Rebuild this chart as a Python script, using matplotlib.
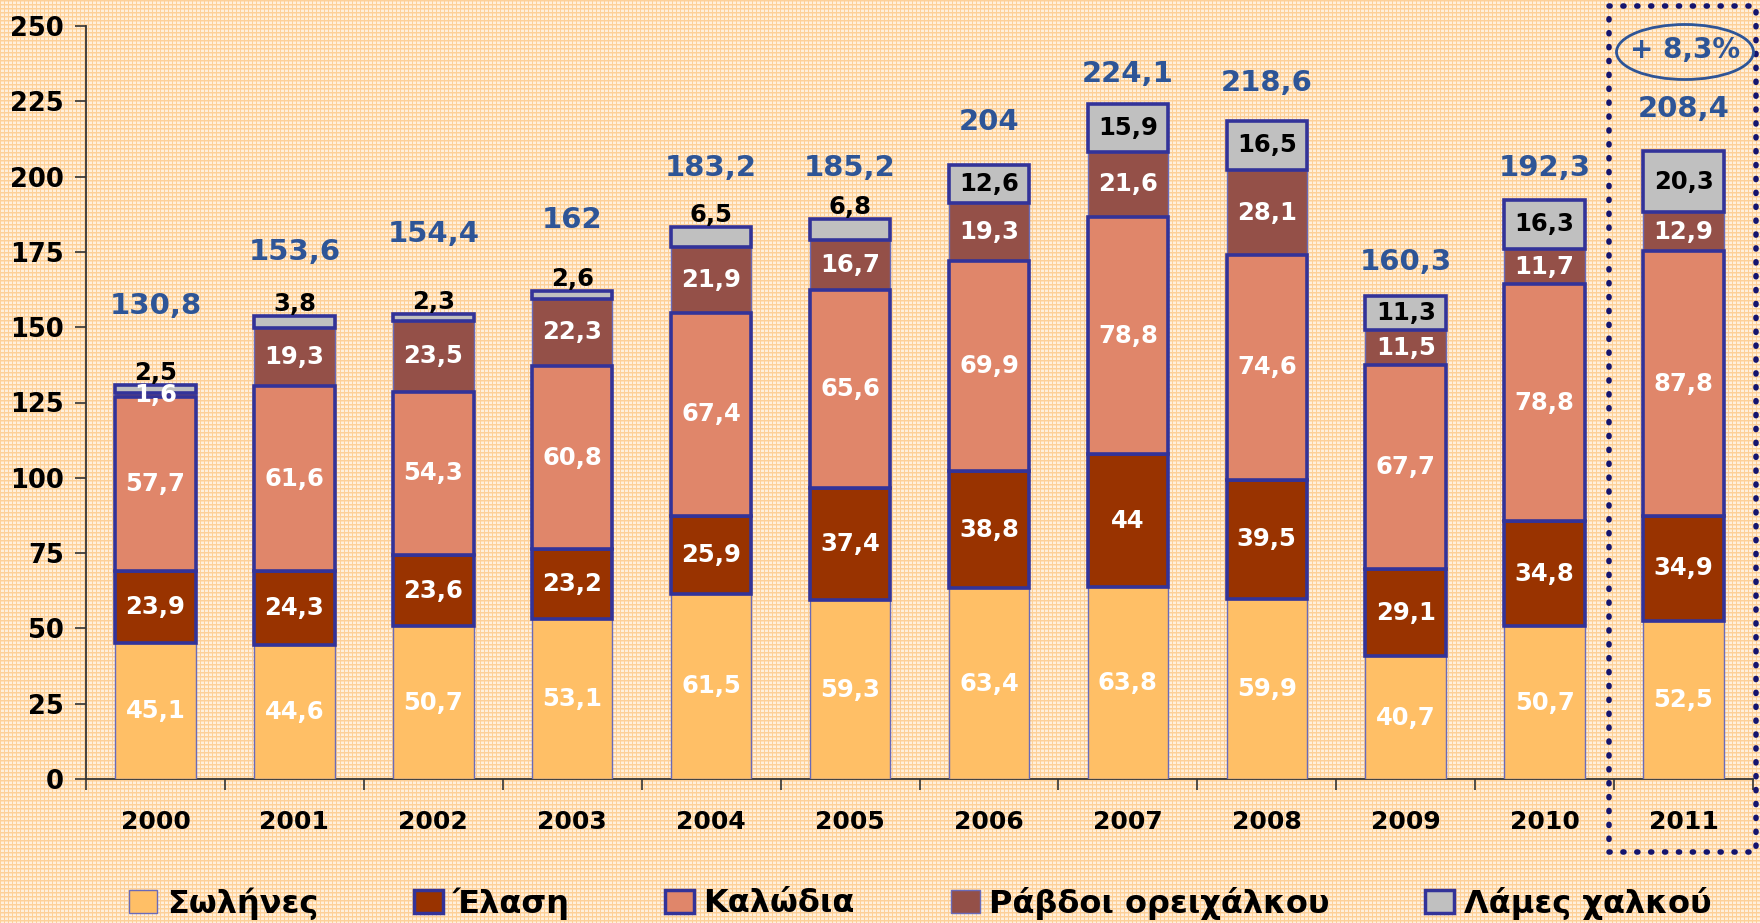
import numpy as np
import matplotlib
matplotlib.use('Agg')
import matplotlib.pyplot as plt
from matplotlib.patches import Ellipse, Rectangle, Patch

# ---------------- data ----------------
years = ['2000', '2001', '2002', '2003', '2004', '2005', '2006', '2007', '2008', '2009', '2010', '2011']
solines = [45.1, 44.6, 50.7, 53.1, 61.5, 59.3, 63.4, 63.8, 59.9, 40.7, 50.7, 52.5]
elasi = [23.9, 24.3, 23.6, 23.2, 25.9, 37.4, 38.8, 44.0, 39.5, 29.1, 34.8, 34.9]
kalodia = [57.7, 61.6, 54.3, 60.8, 67.4, 65.6, 69.9, 78.8, 74.6, 67.7, 78.8, 87.8]
ravdoi = [1.6, 19.3, 23.5, 22.3, 21.9, 16.7, 19.3, 21.6, 28.1, 11.5, 11.7, 12.9]
lames = [2.5, 3.8, 2.3, 2.6, 6.5, 6.8, 12.6, 15.9, 16.5, 11.3, 16.3, 20.3]
totals = [130.8, 153.6, 154.4, 162, 183.2, 185.2, 204, 224.1, 218.6, 160.3, 192.3, 208.4]
series_names = ['Σωλήνες', 'Έλαση', 'Καλώδια', 'Ράβδοι ορειχάλκου', 'Λάμες χαλκού']
growth_text = '+ 8,3%'

# layout: heights (data units) of the total labels as placed in the original
total_label_y = [157, 175, 181, 185.5, 203, 203, 218, 234, 231, 171.5, 203, 222.5]

# ---------------- style ----------------
colors = ['#FFBF66', '#993300', '#E0866A', '#945048', '#C0C0C0']
edge_navy = '#333399'
edgecolors = ['#6A6AB8', edge_navy, edge_navy, '#6A6AB8', edge_navy]
linewidths = [1.0, 2.6, 2.6, 1.0, 2.6]
text_colors = ['white', 'white', 'white', 'white', 'black']
blue = '#2E5597'

W, H = 1760, 923
fig = plt.figure(figsize=(W / 100, H / 100), dpi=100)

# checkered background pattern
bg = np.zeros((H, W, 3))
bg[:] = np.array([255, 240, 220]) / 255.0
line_c = np.array([253, 208, 152]) / 255.0
bg[::4, :, :] = line_c
bg[:, ::4, :] = line_c
bg[1::4, :, :] = (bg[1::4, :, :] + line_c) / 2
fig.figimage(bg, xo=0, yo=0, zorder=0)

ax = fig.add_axes([86 / W, 1 - 779 / H, (1753 - 86) / W, (779 - 26) / H])
ax.set_facecolor('none')
ax.set_zorder(2)

x = np.arange(len(years))
width = 0.58
series = [solines, elasi, kalodia, ravdoi, lames]
bottom = np.zeros(len(years))
fmt = lambda v: f"{v:g}".replace('.', ',')

for i, vals in enumerate(series):
    vals = np.array(vals)
    ax.bar(x, vals, width, bottom=bottom, color=colors[i], edgecolor=edgecolors[i],
           linewidth=linewidths[i], zorder=3 + (1 if linewidths[i] > 2 else 0))
    for j, v in enumerate(vals):
        yc = bottom[j] + v / 2
        if i == 4 and v < 10:
            yc = bottom[j] + v + 4.0
        ax.text(x[j], yc, fmt(v), ha='center', va='center', color=text_colors[i],
                fontsize=17.5, fontweight='bold', zorder=6)
    bottom = bottom + vals

for j, t in enumerate(totals):
    ax.text(x[j], total_label_y[j], fmt(t), ha='center', va='center', color=blue,
            fontsize=21, fontweight='bold', zorder=6)

ax.set_xlim(-0.5, len(years) - 0.5)
ax.set_ylim(0, 250)
ax.set_yticks(np.arange(0, 251, 25))
ax.tick_params(axis='y', direction='out', length=8, width=1.2, pad=8, labelsize=18.5,
               color='#333333')
for lab in ax.get_yticklabels():
    lab.set_fontweight('bold')
ax.set_xticks(x)
ax.set_xticklabels(years, fontsize=18, fontweight='bold')
ax.tick_params(axis='x', which='major', length=0, pad=22)
ax.set_xticks(np.arange(-0.5, len(years), 1.0), minor=True)
ax.tick_params(axis='x', which='minor', direction='out', length=8, width=1.2, color='#333333')
for s in ['top', 'right']:
    ax.spines[s].set_visible(False)
for s in ['left', 'bottom']:
    ax.spines[s].set_color('#333333')
    ax.spines[s].set_linewidth(1.3)

# dotted box around 2011
box = Rectangle((1609 / W, 1 - 852 / H), (1756 - 1609) / W, (852 - 6) / H,
                transform=fig.transFigure, fill=False, edgecolor='#14146E',
                linewidth=4, linestyle=(0, (0.2, 2.3)), capstyle='round', zorder=10)
fig.add_artist(box)
ell = Ellipse((1685 / W, 1 - 52 / H), 137 / W, 55 / H, transform=fig.transFigure,
              fill=False, edgecolor=blue, linewidth=2, zorder=10)
fig.add_artist(ell)
fig.text(1685 / W, 1 - 50 / H, growth_text, ha='center', va='center', color=blue,
         fontsize=20, fontweight='bold', zorder=11)

# legend
handles = [Patch(facecolor=colors[i], edgecolor=edgecolors[i],
                 linewidth=(1.0 if linewidths[i] < 2 else 2.5)) for i in range(5)]
leg = fig.legend(handles, series_names, loc='center', bbox_to_anchor=(920 / W, 1 - 903 / H),
                 ncol=5, frameon=False, handlelength=0.9, handleheight=0.7,
                 handletextpad=0.3, columnspacing=3.0,
                 prop={'family': ['DejaVu Sans'], 'weight': 'bold', 'size': 23})
leg.set_zorder(12)

fig.savefig('out.png', dpi=100)
